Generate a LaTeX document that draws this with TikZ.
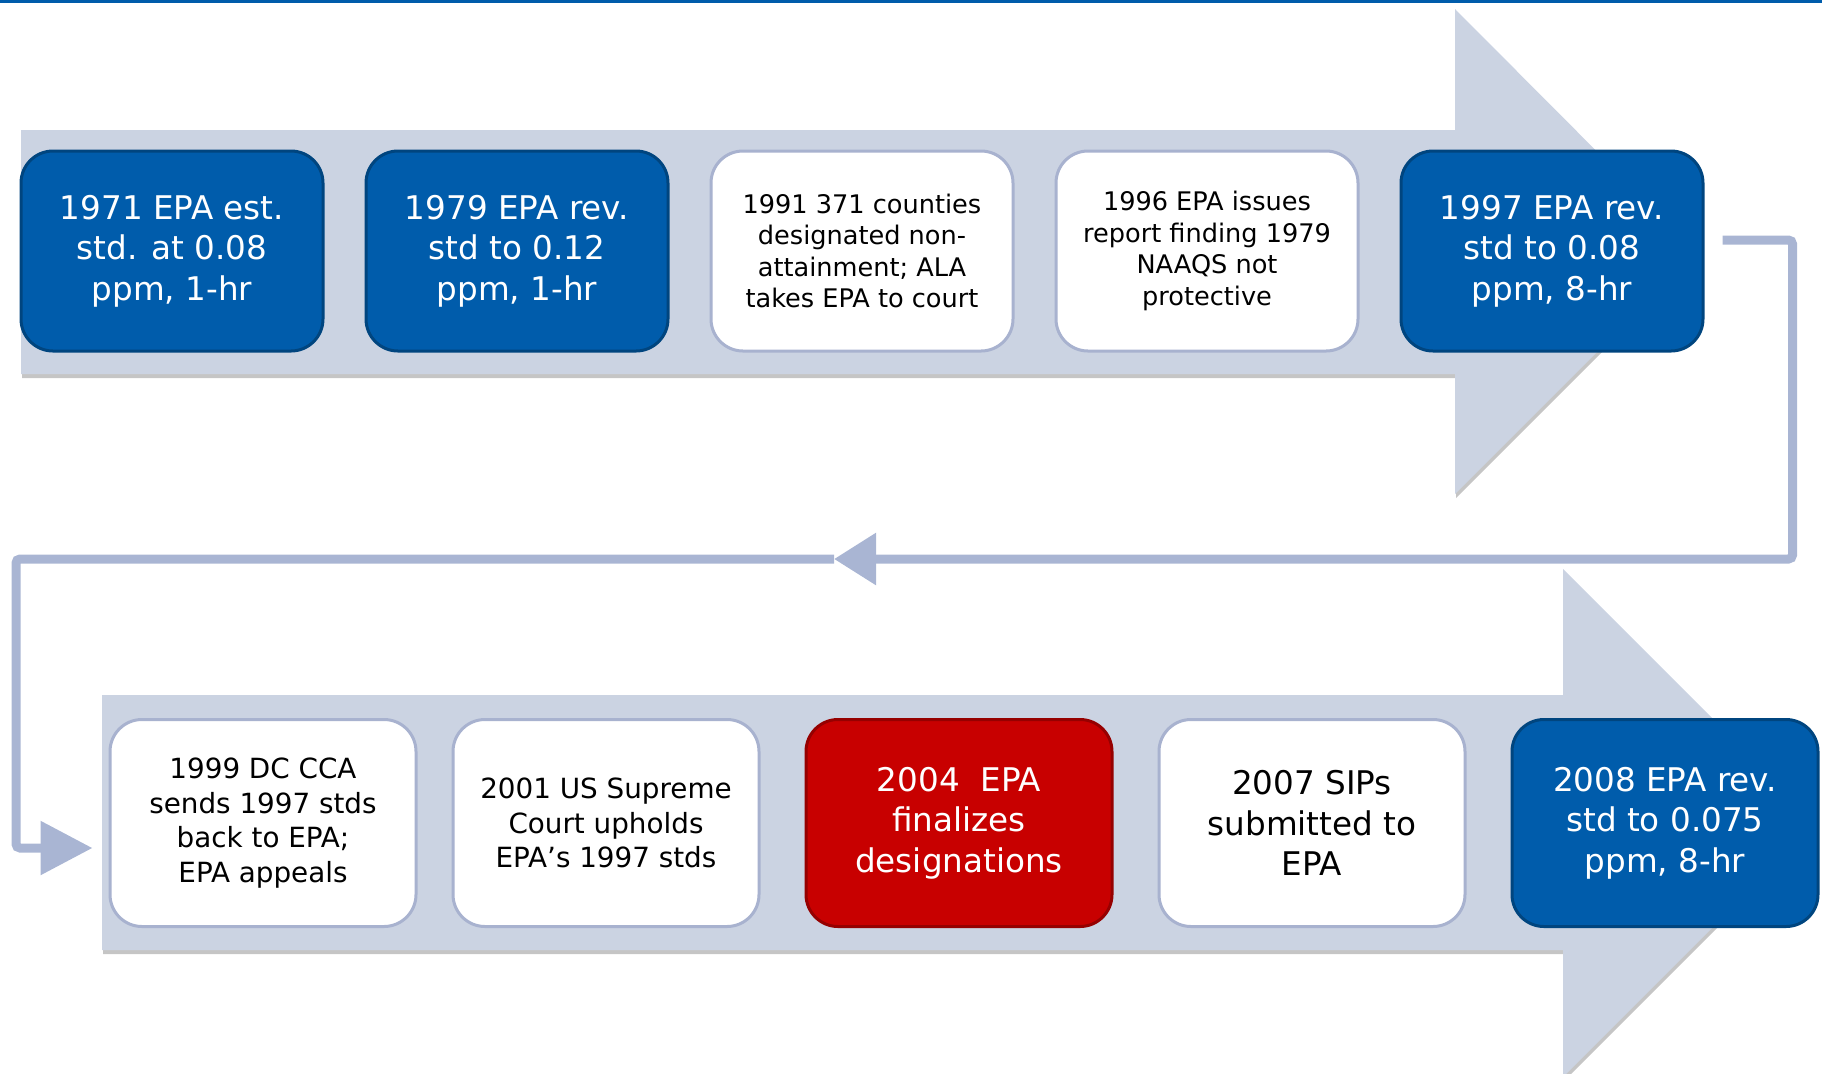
\documentclass[tikz,border=0pt]{standalone}
\usepackage{fontspec}
\setmainfont{DejaVu Sans}
\usetikzlibrary{positioning, arrows.meta, shadows}
\definecolor{epa-blue}{HTML}{005CAB}
\definecolor{epa-blue-edge}{HTML}{00457F}
\definecolor{epa-red}{HTML}{C80000}
\definecolor{epa-red-edge}{HTML}{960000}
\definecolor{band-grey}{HTML}{CBD3E2}
\definecolor{link-grey}{HTML}{A9B5D3}
\definecolor{box-edge}{HTML}{A8B2CF}

\begin{document}
\begin{tikzpicture}[x=0.5pt, y=-0.5pt]
				\tikzset{band/.style={fill=band-grey, drop shadow={shadow xshift=0.5pt, shadow yshift=-2pt, fill=black!45, opacity=.5}}}
				\tikzset{evt/.style={rectangle, rounded corners=16pt, line width=1.5pt, align=center, inner sep=2pt, minimum width=151pt, minimum height=100pt}}
				\tikzset{blue evt/.style={evt, fill=epa-blue, draw=epa-blue-edge, text=white, font=\fontsize{16.3}{20.3}\selectfont}}
				\tikzset{white evt/.style={evt, fill=white, draw=box-edge, text=black, font=\fontsize{12.8}{15.7}\selectfont}}
				\tikzset{low/.style={minimum width=153pt, minimum height=103.5pt}}
				\tikzset{conn/.style={draw=link-grey, line width=4.5pt, rounded corners=2pt}}
				\useasboundingbox (0,0) rectangle (1822,1073);
				\fill[epa-blue] (0,0) rectangle (1822,3);
				\fill[band] (21,130) -- (1455,130) -- (1455,9) -- (1697,252) -- (1455,494) -- (1455,374) -- (21,374) -- cycle;
				\fill[band] (102,695) -- (1563,695) -- (1563,569) -- (1817,823) -- (1563,1077) -- (1563,950) -- (102,950) -- cycle;
				\node[blue evt] at (172,251) (e1971) {1971 EPA est.\\std. at 0.08\\ppm, 1-hr};
				\node[blue evt, right=20pt of e1971] (e1979) {1979 EPA rev.\\std to 0.12\\ppm, 1-hr};
				\node[white evt, right=20pt of e1979] (e1991) {1991 371 counties\\designated non-\\attainment; ALA\\takes EPA to court};
				\node[white evt, right=20pt of e1991] (e1996) {1996 EPA issues\\report finding 1979\\NAAQS not\\protective};
				\node[blue evt, right=20pt of e1996] (e1997) {1997 EPA rev.\\std to 0.08\\ppm, 8-hr};
				\node[white evt, low, font=\fontsize{13.9}{17.4}\selectfont] at (263,823) (e1999) {1999 DC CCA\\sends 1997 stds\\back to EPA;\\EPA appeals};
				\node[white evt, low, font=\fontsize{13.9}{17.4}\selectfont, right=17pt of e1999] (e2001) {2001 US Supreme\\Court upholds\\EPA's 1997 stds};
				\node[blue evt, low, fill=epa-red, draw=epa-red-edge, right=22pt of e2001] (e2004) {2004~ EPA\\finalizes\\designations};
				\node[white evt, low, font=\fontsize{16.3}{20.3}\selectfont, right=22pt of e2004] (e2007) {2007 SIPs\\submitted to\\EPA};
				\node[blue evt, low, right=22pt of e2007] (e2008) {2008 EPA rev.\\std to 0.075\\ppm, 8-hr};
				\coordinate (turn mid) at (834,559);
				\draw[conn, -{Triangle[length=21pt, width=25pt]}]
				([xshift=9pt, yshift=5.5pt]e1997.east) -- ++(35pt,0) |- (turn mid);
				\draw[conn, -{Triangle[length=26pt, width=26pt]}]
				(turn mid) -| (16,848) -- ([xshift=-8pt, yshift=-12.5pt]e1999.west);
			\end{tikzpicture}
\end{document}
